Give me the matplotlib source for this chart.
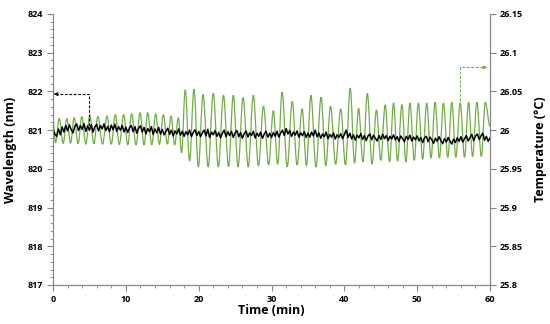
import numpy as np
import matplotlib
matplotlib.use('Agg')
import matplotlib.pyplot as plt
from matplotlib.path import Path
from matplotlib.patches import PathPatch

plt.rcParams['font.family'] = ['Open Sans', 'DejaVu Sans']

# Wavelength trace (nm), sampled every 0.25 min
wl_time = np.arange(0, 60.001, 0.25)
wavelength = [
    821.02, 820.90, 820.84, 821.03, 820.88, 821.08, 820.95, 821.12, 820.98, 821.14,
    821.01, 820.93, 821.10, 821.16, 820.99, 821.12, 821.02, 821.17, 820.97, 821.11,
    821.00, 821.14, 820.95, 821.09, 821.15, 820.98, 821.12, 821.03, 821.16, 820.99,
    821.10, 820.96, 821.13, 821.01, 821.15, 820.97, 821.09, 821.00, 821.12, 820.95,
    821.08, 820.94, 821.06, 821.12, 820.96, 821.09, 820.92, 821.05, 821.11, 820.95,
    821.07, 820.90, 821.04, 820.96, 821.09, 820.89, 821.03, 820.93, 821.07, 820.90,
    821.02, 820.88, 820.97, 821.05, 820.89, 821.00, 820.85, 820.98, 820.90, 821.03,
    820.87, 820.97, 820.84, 820.96, 820.88, 821.00, 820.83, 820.94, 821.01, 820.86,
    820.97, 820.83, 820.93, 821.00, 820.85, 821.02, 820.81, 820.95, 820.88, 820.99,
    820.84, 820.94, 820.80, 820.92, 821.00, 820.83, 820.96, 820.86, 820.97, 820.81,
    820.93, 820.99, 820.83, 820.94, 820.79, 820.91, 820.98, 820.82, 820.93, 820.86,
    820.97, 820.80, 820.92, 820.84, 820.95, 820.79, 820.90, 820.97, 820.82, 820.92,
    820.81, 820.94, 820.84, 820.97, 820.82, 820.92, 821.00, 820.86, 821.04, 820.90,
    820.99, 820.84, 820.95, 820.87, 820.98, 820.82, 820.93, 820.86, 820.96, 820.81,
    820.92, 820.82, 820.95, 820.85, 821.00, 820.83, 820.93, 820.79, 820.90, 820.83,
    820.95, 820.78, 820.89, 820.82, 820.93, 820.77, 820.88, 820.81, 820.91, 820.78,
    820.89, 821.00, 820.81, 820.92, 820.77, 820.88, 820.74, 820.87, 820.80, 820.91,
    820.76, 820.86, 820.73, 820.85, 820.90, 820.75, 820.87, 820.79, 820.72, 820.86,
    820.76, 820.89, 820.78, 820.86, 820.73, 820.84, 820.77, 820.88, 820.75, 820.83,
    820.71, 820.85, 820.78, 820.70, 820.84, 820.76, 820.87, 820.72, 820.82, 820.75,
    820.85, 820.72, 820.81, 820.68, 820.80, 820.84, 820.70, 820.82, 820.75, 820.66,
    820.79, 820.71, 820.83, 820.73, 820.65, 820.78, 820.69, 820.81, 820.72, 820.64,
    820.77, 820.68, 820.80, 820.71, 820.83, 820.69, 820.78, 820.86, 820.72, 820.81,
    820.89, 820.73, 820.84, 820.90, 820.76, 820.85, 820.92, 820.74, 820.84, 820.71,
    820.80,
]

# Temperature trace (deg C): start/end points, peaks and troughs of the oscillation
temp_start = (0.0, 26.013)
temp_end = (60.0, 26.005)
peak_time = [0.85, 1.9, 2.9, 3.95, 5.05, 6.15, 7.4, 8.55, 9.7, 10.8,
             11.95, 13.0, 14.1, 15.15, 16.2, 17.2, 18.15, 19.35, 20.6, 22.0,
             23.4, 24.75, 26.1, 27.5, 28.9, 30.25, 31.45, 32.85, 34.2, 35.4,
             36.8, 38.1, 39.5, 40.8, 41.95, 43.15, 44.4, 45.6, 46.75, 47.9,
             49.0, 50.15, 51.3, 52.45, 53.6, 54.75, 55.9, 57.05, 58.2, 59.35]
peak_temp = [26.015, 26.015, 26.016, 26.0175, 26.019, 26.0175, 26.018, 26.020, 26.020, 26.021,
             26.0225, 26.0225, 26.021, 26.020, 26.018, 26.016, 26.052, 26.053, 26.046, 26.0475,
             26.045, 26.045, 26.042, 26.045, 26.031, 26.025, 26.049, 26.037, 26.0275, 26.045,
             26.0425, 26.031, 26.0275, 26.054, 26.028, 26.0475, 26.026, 26.0325, 26.035, 26.033,
             26.035, 26.035, 26.035, 26.036, 26.035, 26.036, 26.035, 26.036, 26.036, 26.036]
trough_time = [0.35, 1.4, 2.4, 3.45, 4.5, 5.6, 6.8, 8.0, 9.1, 10.25,
               11.4, 12.5, 13.55, 14.6, 15.7, 16.7, 17.65, 18.75, 19.95, 21.3,
               22.7, 24.1, 25.4, 26.8, 28.2, 29.6, 30.85, 32.15, 33.5, 34.8,
               36.1, 37.45, 38.8, 40.15, 41.4, 42.55, 43.8, 45.0, 46.2, 47.3,
               48.45, 49.6, 50.75, 51.9, 53.05, 54.2, 55.3, 56.5, 57.6, 58.8]
trough_temp = [25.984, 25.983, 25.983, 25.9825, 25.982, 25.9825, 25.982, 25.982, 25.9815, 25.981,
               25.981, 25.981, 25.981, 25.9815, 25.982, 25.981, 25.971, 25.960, 25.9525, 25.9525,
               25.9525, 25.953, 25.9525, 25.9525, 25.954, 25.955, 25.956, 25.9525, 25.955, 25.954,
               25.9525, 25.954, 25.956, 25.955, 25.9575, 25.959, 25.956, 25.961, 25.959, 25.960,
               25.959, 25.961, 25.9625, 25.964, 25.964, 25.965, 25.965, 25.965, 25.966, 25.966]

# merge extrema into one time-ordered trace
pts = [temp_start, temp_end] + list(zip(peak_time, peak_temp)) + list(zip(trough_time, trough_temp))
pts.sort()

GREEN = '#70AD47'
SPINE = '#868686'

fig = plt.figure(figsize=(5.5, 3.24), dpi=100)
ax = fig.add_axes([0.0964, 0.1204, 0.7946, 0.8364])
ax2 = ax.twinx()

# smoothed line through the extrema (like a spreadsheet "smoothed line")
verts = [pts[0]]
codes = [Path.MOVETO]
k = 0.364
for (t0, v0), (t1, v1) in zip(pts[:-1], pts[1:]):
    d = t1 - t0
    verts += [(t0 + k * d, v0), (t1 - k * d, v1), (t1, v1)]
    codes += [Path.CURVE4] * 3
ax2.add_patch(PathPatch(Path(verts, codes), fill=False, edgecolor=GREEN, lw=0.9))

ax.plot(wl_time, wavelength, color='black', lw=1.1)
ax.set_zorder(ax2.get_zorder() + 1)
ax.patch.set_visible(False)

ax.set_xlim(0, 60)
ax.set_ylim(817, 824)
ax2.set_ylim(25.8, 26.15)
ax.set_xticks(np.arange(0, 61, 10))
ax.set_xticks(np.arange(0, 61, 2), minor=True)
ax.set_yticks(np.arange(817, 824.1, 1))
ax.set_yticks(np.arange(817, 824.01, 0.2), minor=True)
ax2.set_yticks(np.arange(25.8, 26.151, 0.05))
ax2.set_yticklabels(['25.8', '25.85', '25.9', '25.95', '26', '26.05', '26.1', '26.15'])

for a in (ax, ax2):
    a.spines['top'].set_visible(False)
    for s in ('left', 'right', 'bottom'):
        a.spines[s].set_color(SPINE)
        a.spines[s].set_linewidth(0.8)
    a.tick_params(which='major', length=4, width=0.8, color=SPINE, labelsize=6.5, pad=3)
    a.tick_params(which='minor', length=2, width=0.6, color=SPINE)
    for lbl in a.get_xticklabels() + a.get_yticklabels():
        lbl.set_fontweight('bold')

ax.set_xlabel('Time (min)', fontsize=9, fontweight='bold', labelpad=0)
ax.set_ylabel('Wavelength (nm)', fontsize=9, fontweight='bold', labelpad=8)
ax2.set_ylabel('Temperature (°C)', fontsize=9, fontweight='bold', labelpad=8)

# dashed arrows pointing to the matching axis
ax.plot([5.0, 5.0, 0.6], [821.0, 821.93, 821.93], color='black', lw=0.8, ls=(0, (2.5, 1.5)))
ax.annotate('', xy=(0.1, 821.93), xytext=(0.8, 821.93),
            arrowprops=dict(arrowstyle='-|>', color='black', lw=0.8, mutation_scale=5))
ax.plot([55.9, 55.9, 59.0], [821.65, 822.62, 822.62], color=GREEN, lw=0.8, ls=(0, (2.5, 1.5)))
ax.annotate('', xy=(59.6, 822.62), xytext=(58.9, 822.62),
            arrowprops=dict(arrowstyle='-|>', color=GREEN, lw=0.8, mutation_scale=5))

fig.savefig('out.png', dpi=100)
